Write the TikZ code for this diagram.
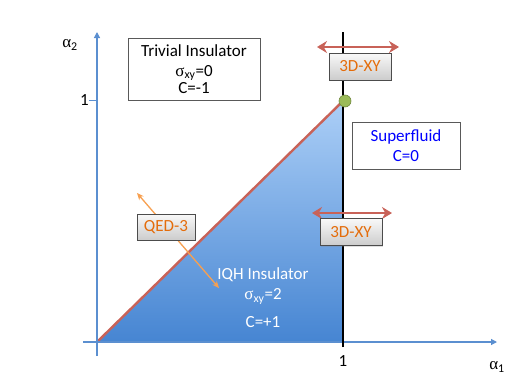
\documentclass[tikz,border=0pt]{standalone}
\usepackage{fontspec}
\setmainfont{Carlito}
\newfontfamily\grk{Liberation Serif}
\usetikzlibrary{positioning,arrows.meta,shadows}

\definecolor{axisblue}{RGB}{91,143,208}
\definecolor{triTop}{RGB}{172,207,247}
\definecolor{triBot}{RGB}{70,133,210}
\definecolor{redline}{RGB}{200,98,88}
\definecolor{xyorange}{RGB}{228,108,10}
\definecolor{qedorange}{RGB}{247,160,80}
\definecolor{dotgreen}{RGB}{155,187,89}
\definecolor{dotedge}{RGB}{113,137,63}

\newcommand{\sxy}{{\grk σ}\textsubscript{xy}}

\tikzset{
  lbl/.style={font=\fontsize{17}{20}\selectfont, inner sep=0pt},
  phasebox/.style={draw=gray!70!black, fill=white, line width=0.6pt, align=center,
    font=\fontsize{17}{20}\selectfont, inner sep=0pt},
  critbox/.style={draw=gray!60!black, top color=white!95!gray, bottom color=gray!40,
    line width=0.6pt, text=xyorange, font=\fontsize{17}{20}\selectfont, inner sep=0pt,
    minimum width=62pt, minimum height=27pt,
    drop shadow={opacity=0.25, shadow xshift=1pt, shadow yshift=-1pt}},
  flow/.style={redline, line width=2.6pt, {Stealth[length=10pt,width=12pt]}-{Stealth[length=10pt,width=12pt]}},
}

\begin{document}
\begin{tikzpicture}[x=1pt, y=-1pt]
	\useasboundingbox (0,0) rectangle (517,383);
	
	% axes and corners of the phase region
	\coordinate (O) at (97,342);
	\coordinate (xstart) at (83,342);
	\coordinate (xend) at (497,342);
	\coordinate (ybot) at (97,356);
	\coordinate (ytop) at (97,32);
	\coordinate (A) at (343,101);
	\coordinate (B) at (343,342);
	\coordinate (vtop) at (343,32);
	\coordinate (vbot) at (343,347);
	\coordinate (tick) at (89,100);
	\coordinate (tickend) at (97,100);
	
	% IQH region
	\shade[top color=triTop, bottom color=triBot] (O) -- (A) -- (B) -- cycle;
	\draw[redline, line width=2.4pt] (O) -- (A);
	
	% axes
	\draw[axisblue, line width=1.2pt, -{Triangle[length=6pt,width=6pt]}] (xstart) -- (xend);
	\draw[axisblue, line width=1.2pt, -{Triangle[length=6pt,width=6pt]}] (ybot) -- (ytop);
	\draw[axisblue, line width=1pt] (tick) -- (tickend);
	\node[lbl, left=0pt of tick] (yone) {1};
	\node[lbl] (xone) at (343,361) {1};
	\node[font=\fontsize{17}{18}\selectfont] (a2) at (70,45) {{\grk α}\textsubscript{2}};
	\node[font=\fontsize{17}{18}\selectfont] (a1) at (497,367) {{\grk α}\textsubscript{1}};
	
	% phase boundary alpha_1 = 1
	\draw[black, line width=2pt] (vbot) -- (vtop);
	\node[circle, fill=dotgreen, draw=dotedge, line width=0.6pt, minimum width=11pt,
	  minimum height=12pt, inner sep=0pt] (crit) at (345,101) {};
	
	% flow arrows
	\coordinate (r1a) at (317,47);
	\coordinate (r1b) at (399,47);
	\coordinate (r2a) at (312,213);
	\coordinate (r2b) at (392,213);
	\coordinate (q1) at (137,193);
	\coordinate (q2) at (219,288);
	\draw[qedorange, line width=1.3pt,
	  {Stealth[length=7pt,width=6pt]}-{Stealth[length=7pt,width=6pt]}] (q1) -- (q2);
	\draw[flow] (r1a) -- (r1b);
	\draw[flow] (r2a) -- (r2b);
	
	% phases
	\node[phasebox, minimum width=132pt, minimum height=62pt] (trivial) at (194,69)
	  {Trivial Insulator\\ \sxy=0\\[-3pt] C=-1};
	\node[phasebox, text=blue, minimum width=108pt, minimum height=47pt] (super) at (406,145.5)
	  {Superfluid\\ C=0};
	\node[lbl, text=white, align=center] (iqh) at (263,298)
	  {IQH Insulator\\ \sxy=2\\[8pt] C=+1};
	
	% critical points
	\node[critbox] (xytop) at (360,66.5) {3D-XY};
	\node[critbox] (xylow) at (351,232) {3D-XY};
	\node[critbox, minimum width=58pt, minimum height=26pt] (qed) at (166,227) {QED-3};
\end{tikzpicture}
\end{document}
